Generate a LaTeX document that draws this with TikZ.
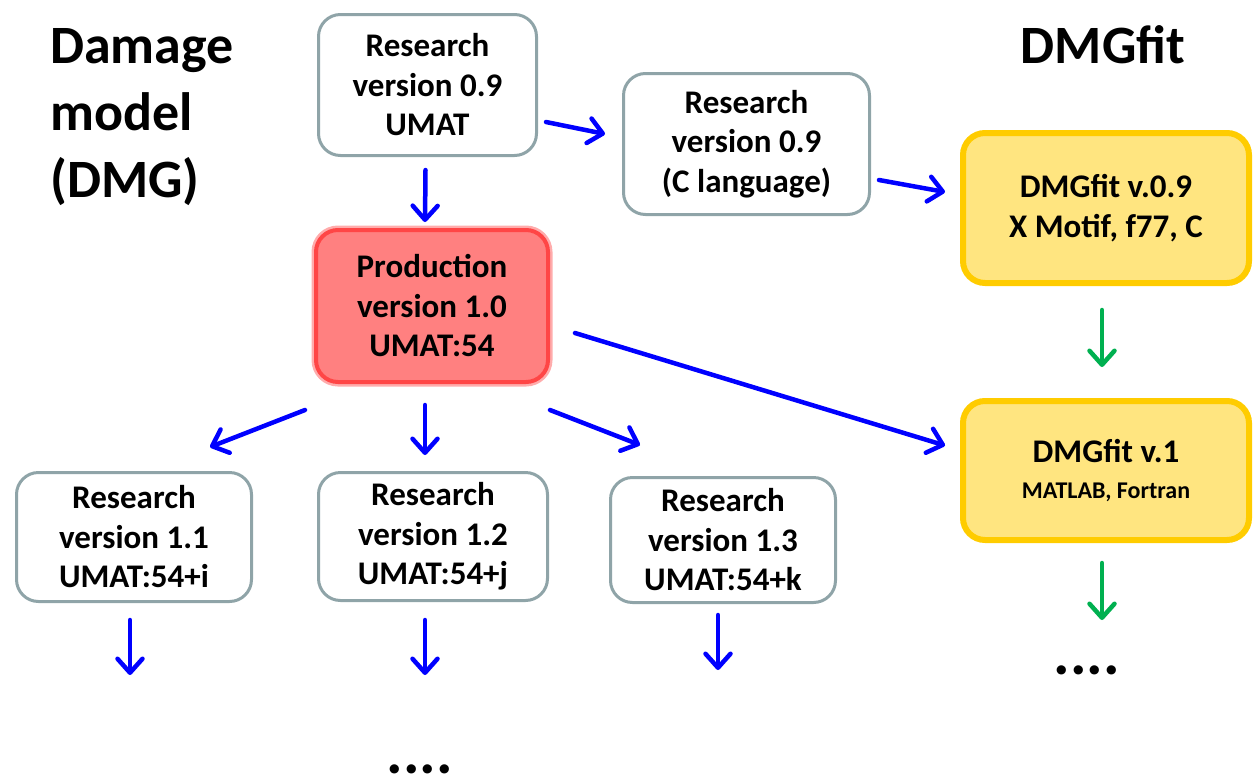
\documentclass[tikz,border=0pt]{standalone}
\usepackage{fontspec}
\setmainfont{Carlito}
\usetikzlibrary{arrows.meta,calc}
\definecolor{boxgray}{RGB}{143,164,168}
\definecolor{prodfill}{RGB}{255,128,128}
\definecolor{prodline}{RGB}{255,70,70}
\definecolor{fitfill}{RGB}{255,229,128}
\definecolor{fitline}{RGB}{255,204,0}
\definecolor{arrblue}{RGB}{0,0,255}
\definecolor{arrgreen}{RGB}{0,176,80}
\begin{document}
\begin{tikzpicture}[x=1pt,y=-1pt,
  box/.style={draw=boxgray, line width=3pt, rounded corners=22pt, fill=white,
    align=center, inner sep=0pt, font=\fontsize{33}{39.5}\selectfont\bfseries},
  prodbox/.style={box, draw=prodline, line width=4pt, fill=prodfill,
    preaction={draw=prodline!45, line width=9pt}},
  fitbox/.style={box, draw=fitline, line width=6pt, fill=fitfill},
  arr/.style={draw=arrblue, line width=4.5pt, line cap=round,
    -{Straight Barb[length=14pt,width=25pt,line cap=round,line join=round]}},
  garr/.style={arr, draw=arrgreen},
  heading/.style={font=\fontsize{54}{67}\selectfont\bfseries, inner sep=0pt},
  dots/.style={font=\fontsize{62}{62}\selectfont\bfseries, inner sep=0pt, anchor=base}
]
\useasboundingbox (0,0) rectangle (1254,777);

% headings
\node[heading, anchor=north west, align=left] (dmg) at (50,28) {Damage\\model\\(DMG)};
\node[heading, anchor=base] (fit) at (1103,63) {DMGfit};

% boxes
\node[box, minimum width=218pt, minimum height=141pt] (r09u) at (427.5,85) {Research\\version 0.9\\UMAT};
\node[box, minimum width=246pt, minimum height=141pt] (r09c) at (746.5,144) {Research\\version 0.9\\(C language)};
\node[prodbox, minimum width=232pt, minimum height=152pt] (prod) at (432,306) {Production\\version 1.0\\UMAT:54};
\node[fitbox, minimum width=286pt, minimum height=150pt] (fit09) at (1106,208) {DMGfit v.0.9\\X Motif, f77, C};
\node[fitbox, minimum width=286pt, minimum height=139pt] (fit1) at (1106,470.5)
  {DMGfit v.1\\[-4pt]{\fontsize{24}{28}\selectfont MATLAB, Fortran}};
\node[box, minimum width=235pt, minimum height=129pt] (r11) at (134,537) {Research\\version 1.1\\UMAT:54+i};
\node[box, minimum width=229pt, minimum height=128pt] (r12) at (433,536.5) {Research\\version 1.2\\UMAT:54+j};
\node[box, minimum width=225pt, minimum height=125pt] (r13) at (723,540) {Research\\version 1.3\\UMAT:54+k};

% free ends
\coordinate (e11) at (130,675);
\coordinate (e12) at (425,675);
\coordinate (e13) at (718,670);
\coordinate (efit) at (1102,620);

% dots
\node[dots] (dotsR) at (1087,674) {....};
\node[dots] (dotsB) at (420,773) {....};

% connectors
\draw[arr] ([shift={(-2,13)}]r09u.south) -- ([shift={(-7,-6)}]prod.north);
\draw[arr] ([shift={(8,37)}]r09u.east) -- ([shift={(-17,-10)}]r09c.west);
\draw[arr] ([shift={(8,36)}]r09c.east) -- ([shift={(-15,-16)}]fit09.west);
\draw[arr] ([shift={(25,27)}]prod.east) -- ([shift={(-15,-25)}]fit1.west);
\draw[arr] ([shift={(-127,26)}]prod.south) -- ([shift={(76,-24)}]r11.north);
\draw[arr] ([shift={(-7,21)}]prod.south) -- ([shift={(-8,-16)}]r12.north);
\draw[arr] ([shift={(118,26)}]prod.south) -- ([shift={(-83,-31)}]r13.north);
\draw[arr] ([shift={(-4,17)}]r11.south) -- (e11);
\draw[arr] ([shift={(-8,18)}]r12.south) -- (e12);
\draw[arr] ([shift={(-5,11)}]r13.south) -- (e13);
\draw[garr] ([shift={(-4,24)}]fit09.south) -- ([shift={(-4,-31)}]fit1.north);
\draw[garr] ([shift={(-4,20)}]fit1.south) -- (efit);
\end{tikzpicture}
\end{document}
